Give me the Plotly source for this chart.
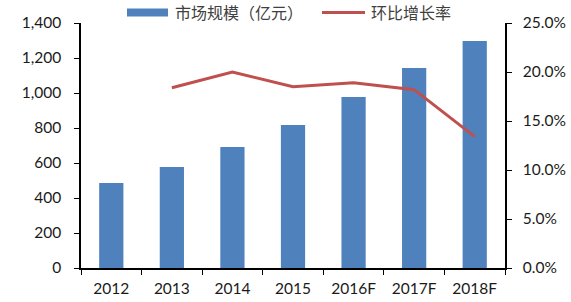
import plotly.graph_objects as go

categories = ["2012", "2013", "2014", "2015", "2016F", "2017F", "2018F"]
market_size = [486, 577, 691, 817, 977, 1143, 1297]
growth_rate = [None, 18.4, 20.0, 18.5, 18.9, 18.2, 13.4]
legend_names = ["市场规模（亿元）", "环比增长率"]

bar_color = "#4F81BD"
line_color = "#C0504D"
tick_font = dict(family="Lato, Carlito, sans-serif", size=15.5, color="#1a1a1a")

fig = go.Figure()
fig.add_trace(go.Bar(
    x=categories, y=market_size, name=legend_names[0],
    marker=dict(color=bar_color, line=dict(width=0)), width=0.4,
))
fig.add_trace(go.Scatter(
    x=categories, y=growth_rate, name=legend_names[1], yaxis="y2",
    mode="lines", line=dict(color=line_color, width=3),
))

# manual legend (paper coordinates)
W, H = 571, 302
L, R, T, B = 81, 66, 23, 34
pw, ph = W - L - R, H - T - B
def px(x):
    return (x - L) / pw
def py(y):
    return (H - B - y) / ph

shapes = [
    dict(type="rect", xref="paper", yref="paper",
         x0=px(127), x1=px(168), y0=py(16.5), y1=py(8.5),
         fillcolor=bar_color, line=dict(width=0)),
    dict(type="line", xref="paper", yref="paper",
         x0=px(322), x1=px(365), y0=py(12.5), y1=py(12.5),
         line=dict(color=line_color, width=3)),
]
legend_font = dict(family="'Noto Sans CJK SC', sans-serif", size=16, color="#404040")
annotations = [
    dict(xref="paper", yref="paper", x=px(173), y=py(12.5), text=legend_names[0],
         showarrow=False, xanchor="left", yanchor="middle", font=legend_font),
    dict(xref="paper", yref="paper", x=px(369), y=py(12.5), text=legend_names[1],
         showarrow=False, xanchor="left", yanchor="middle", font=legend_font),
]

fig.update_layout(
    width=W, height=H,
    margin=dict(l=L, r=R, t=T, b=B, autoexpand=False),
    paper_bgcolor="white", plot_bgcolor="white",
    showlegend=False,
    shapes=shapes, annotations=annotations,
    xaxis=dict(
        showline=True, linecolor="black", linewidth=1.5,
        ticks="outside", ticklen=5, tickcolor="black", tickson="boundaries",
        showgrid=False, tickfont=tick_font, ticklabelstandoff=6,
    ),
    yaxis=dict(
        range=[0, 1400], dtick=200, tickformat=",d",
        showline=True, linecolor="black", linewidth=1.5,
        ticks="outside", ticklen=5, tickcolor="black",
        showgrid=False, zeroline=False, tickfont=tick_font, ticklabelstandoff=10,
    ),
    yaxis2=dict(
        overlaying="y", side="right", range=[0, 25], dtick=5,
        ticksuffix="%", tickformat=".1f",
        showline=True, linecolor="black", linewidth=1.5,
        ticks="outside", ticklen=5, tickcolor="black",
        showgrid=False, zeroline=False, tickfont=tick_font, ticklabelstandoff=8,
    ),
)

fig.write_html("out.html")
